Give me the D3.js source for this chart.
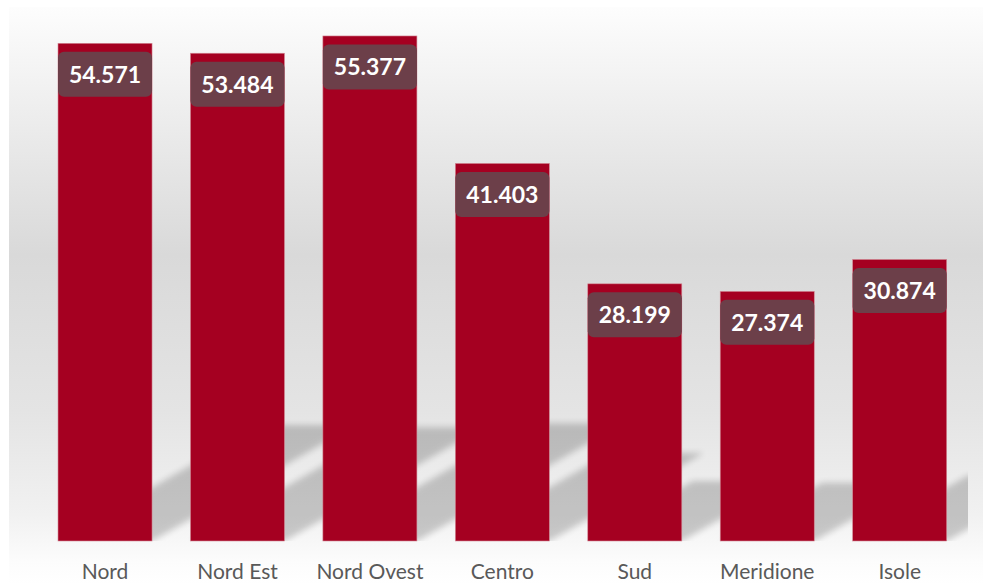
<!DOCTYPE html>
<html lang="it">
<head>
<meta charset="UTF-8">
<title>Regioni</title>
<script src="https://cdn.jsdelivr.net/npm/d3@7/dist/d3.min.js"></script>
<style>
  html, body { margin: 0; padding: 0; background: #fff; }
  svg { display: block; }
</style>
</head>
<body>
<svg id="chart"></svg>
<script>
// data
var regions = ["Nord", "Nord Est", "Nord Ovest", "Centro", "Sud", "Meridione", "Isole"];
var values = [54571, 53484, 55377, 41403, 28199, 27374, 30874];

var width = 983, height = 584;
var base = 541;

var it = d3.formatLocale({decimal: ",", thousands: ".", grouping: [3], currency: ["€", ""]});
var fmt = it.format(",d");

var svg = d3.select("#chart").attr("width", width).attr("height", height);
var defs = svg.append("defs");

// background panel gradient
var grad = defs.append("linearGradient")
  .attr("id", "bg").attr("x1", 0).attr("y1", 0).attr("x2", 0).attr("y2", 1);
grad.append("stop").attr("offset", "0%").attr("stop-color", "#fdfdfd");
grad.append("stop").attr("offset", "20%").attr("stop-color", "#ececec");
grad.append("stop").attr("offset", "43%").attr("stop-color", "#d9d9d9");
grad.append("stop").attr("offset", "70%").attr("stop-color", "#e4e4e4");
grad.append("stop").attr("offset", "88%").attr("stop-color", "#f1f1f1");
grad.append("stop").attr("offset", "96%").attr("stop-color", "#fcfcfc");
grad.append("stop").attr("offset", "100%").attr("stop-color", "#ffffff");

defs.append("filter").attr("id", "blur")
  .attr("x", "-20%").attr("y", "-20%").attr("width", "140%").attr("height", "140%")
  .append("feGaussianBlur").attr("stdDeviation", 3);

defs.append("clipPath").attr("id", "plotclip")
  .append("rect").attr("x", 9).attr("y", 7).attr("width", 959).attr("height", base - 7);

svg.append("rect")
  .attr("x", 9).attr("y", 7)
  .attr("width", width - 9).attr("height", height - 7)
  .attr("fill", "url(#bg)");

// scales
var x = d3.scaleBand()
  .domain(regions)
  .range([38.8, 965.9])
  .paddingInner(0.29)
  .paddingOuter(0.145);

var y = d3.scaleLinear()
  .domain([0, 60000])
  .range([base, base - 547.2]);

// perspective shadows
var rise = 0.233, slope = 0.57;
var shadows = svg.append("g")
  .attr("clip-path", "url(#plotclip)")
  .append("g")
  .attr("filter", "url(#blur)")
  .attr("opacity", 0.19);

shadows.selectAll("polygon")
  .data(regions)
  .enter()
  .append("polygon")
  .attr("fill", "#000")
  .attr("points", function(d, i) {
    var x0 = x(d), x1 = x(d) + x.bandwidth();
    var h = base - y(values[i]);
    var H = h * rise, dx = H / slope;
    return [[x0, base], [x1, base], [x1 + dx, base - H], [x0 + dx, base - H]].join(" ");
  });

// bars
svg.append("g").selectAll("rect")
  .data(regions)
  .enter()
  .append("rect")
  .attr("x", function(d) { return x(d); })
  .attr("y", function(d, i) { return y(values[i]); })
  .attr("width", x.bandwidth())
  .attr("height", function(d, i) { return base - y(values[i]); })
  .attr("fill", "#a50021")
  .attr("stroke", "#d38b97")
  .attr("stroke-width", 0.6);

// value labels
var labels = svg.append("g").selectAll("g")
  .data(regions)
  .enter()
  .append("g")
  .attr("transform", function(d, i) {
    return "translate(" + x(d) + "," + (y(values[i]) + 8.5) + ")";
  });

labels.append("rect")
  .attr("width", x.bandwidth())
  .attr("height", 45)
  .attr("rx", 6)
  .attr("fill", "#6c3f49");

labels.append("text")
  .attr("x", x.bandwidth() / 2)
  .attr("y", 31)
  .attr("text-anchor", "middle")
  .attr("font-family", "Lato, sans-serif")
  .attr("font-weight", "bold")
  .attr("font-size", 23)
  .attr("fill", "#fff")
  .text(function(d, i) { return fmt(values[i]); });

// x axis
var xAxis = svg.append("g")
  .attr("transform", "translate(0," + base + ")")
  .call(d3.axisBottom(x).tickSize(0).tickPadding(0));
xAxis.select(".domain").remove();
xAxis.selectAll("text")
  .attr("dy", null)
  .attr("y", 38)
  .attr("font-family", "Lato, sans-serif")
  .attr("font-size", 21)
  .attr("fill", "#595959");
</script>
</body>
</html>
